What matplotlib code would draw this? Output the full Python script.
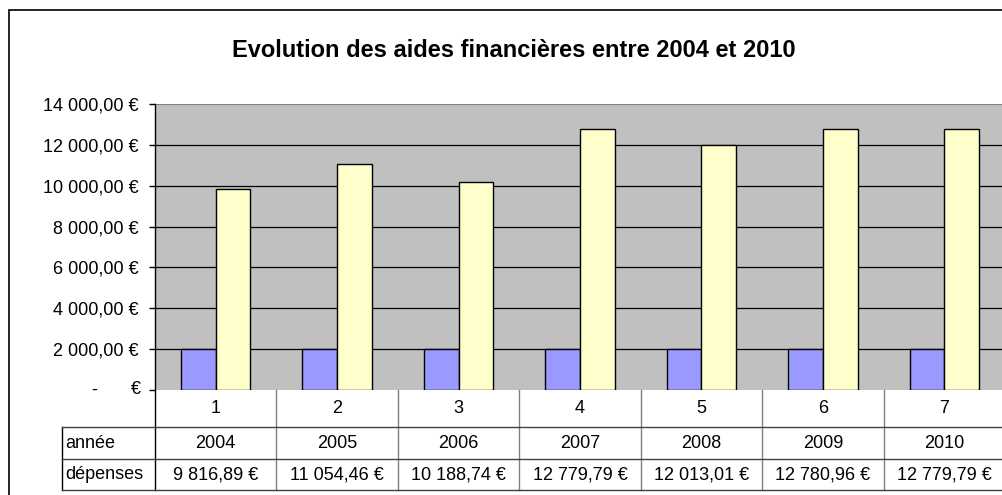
"""Evolution des aides financières entre 2004 et 2010 (Excel-style bar chart with data table)."""

import matplotlib

matplotlib.use("Agg")

import matplotlib.pyplot as plt
from matplotlib.patches import Rectangle
from matplotlib.transforms import blended_transform_factory

categories = ["1", "2", "3", "4", "5", "6", "7"]
annees = [2004, 2005, 2006, 2007, 2008, 2009, 2010]
depenses = [9816.89, 11054.46, 10188.74, 12779.79, 12013.01, 12780.96, 12779.79]
depenses_labels = [
    "9 816,89 €", "11 054,46 €", "10 188,74 €", "12 779,79 €",
    "12 013,01 €", "12 780,96 €", "12 779,79 €",
]
row_labels = ["année", "dépenses"]
yticks = [0, 2000, 4000, 6000, 8000, 10000, 12000, 14000]
ytick_labels = ["", "2 000,00 €", "4 000,00 €", "6 000,00 €", "8 000,00 €",
                "10 000,00 €", "12 000,00 €", "14 000,00 €"]

W, H = 1002, 495
FONT = "Liberation Sans"

fig = plt.figure(figsize=(W / 100, H / 100), dpi=100)
plt.rcParams["font.family"] = [FONT, "DejaVu Sans"]

# plot area in pixels: x 155..1005, y 104..390
left, right, top, bottom = 155, 1005, 104, 390
ax = fig.add_axes([left / W, (H - bottom) / H, (right - left) / W, (bottom - top) / H])
ax.set_facecolor("#c0c0c0")
ax.set_xlim(0, len(categories))
ax.set_ylim(0, 14000)

# outer chart frame
fig.add_artist(Rectangle((9 / W, -0.1), 1.2, (H - 10) / H + 0.1, transform=fig.transFigure,
                         fill=False, edgecolor="black", linewidth=1.2))

for y in yticks[1:-1]:
    ax.axhline(y, color="black", linewidth=0.9, zorder=1)
ax.axhline(14000, color="#808080", linewidth=1.5, zorder=1)

width = 1 / 3.5
xs = [i + 0.5 for i in range(len(categories))]
ax.bar([x - width / 2 for x in xs], annees, width=width, color="#9999ff",
       edgecolor="black", linewidth=1.0, zorder=2)
ax.bar([x + width / 2 for x in xs], depenses, width=width, color="#ffffcc",
       edgecolor="black", linewidth=1.0, zorder=2)

for side in ("top", "right", "bottom"):
    ax.spines[side].set_visible(False)
ax.spines["left"].set_color("black")
ax.spines["left"].set_linewidth(1.0)

ax.set_yticks(yticks, ytick_labels, fontsize=13)
ax.tick_params(axis="y", direction="out", length=4, width=1, pad=8)
ax.set_xticks([])

# zero label "-    €"
ax.text(-0.50, 0, "-", transform=ax.transData, ha="center", va="center", fontsize=13)
ax.text(-0.12, 0, "€", transform=ax.transData, ha="right", va="center", fontsize=13)

ax.set_title("Evolution des aides financières entre 2004 et 2010", fontsize=17,
             fontweight="bold", x=(514 - left) / (right - left), y=1.0, pad=34)

# data table below the plot
tr = blended_transform_factory(ax.transData, ax.transAxes)


def ay(py):
    return (bottom - py) / (bottom - top)


rows = [390, 427, 459, 490]
head_x = (62 - left) / ((right - left) / len(categories))
line_kw = dict(transform=tr, clip_on=False)

ax.plot([0, 0], [ay(390), ay(490)], color="black", linewidth=1.0, **line_kw)
for i in range(1, len(categories) + 1):
    ax.plot([i, i], [ay(390), ay(490)], color="#808080", linewidth=1.0, **line_kw)
ax.plot([head_x, head_x], [ay(427), ay(490)], color="black", linewidth=1.0, **line_kw)
for py in rows[1:]:
    ax.plot([head_x, len(categories)], [ay(py), ay(py)], color="#404040",
            linewidth=1.0, **line_kw)

for x, cat, an, dep in zip(xs, categories, annees, depenses_labels):
    ax.text(x, ay(408.5), cat, ha="center", va="center", fontsize=13, **line_kw)
    ax.text(x, ay(443), str(an), ha="center", va="center", fontsize=13, **line_kw)
    ax.text(x, ay(474.5), dep, ha="center", va="center", fontsize=13, **line_kw)

label_x = (65 - left) / ((right - left) / len(categories))
for label, py in zip(row_labels, [443, 474.5]):
    ax.text(label_x, ay(py), label, ha="left", va="center", fontsize=13, **line_kw)

fig.savefig("out.png", dpi=100)
